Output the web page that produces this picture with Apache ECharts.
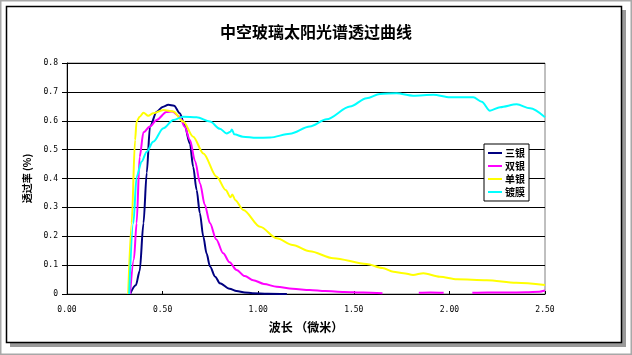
<!DOCTYPE html>
<html><head><meta charset="utf-8">
<script src="https://cdn.jsdelivr.net/npm/echarts@6/dist/echarts.min.js"></script>
<style>html,body{margin:0;padding:0;background:#fff}#c{width:632px;height:355px}</style>
</head><body><div id="c"></div>
<script>
var titleText = '中空玻璃太阳光谱透过曲线';
var xName = '波长 （微米）';
var yName = '透过率 (%)';
var seriesNames = ['三银', '双银', '单银', '镀膜'];
var seriesColors = ['#000080', '#FF00FF', '#FFFF00', '#00FFFF'];

var xSan = [0.33,0.36,0.38,0.40,0.417,0.434,0.469,0.50,0.53,0.56,0.59,0.615,0.643,0.66,0.678,0.695,0.713,0.73,0.748,0.775,0.80,0.85,0.887,0.93,0.97,1.05,1.15];
var ySan = [0,0.03,0.08,0.245,0.42,0.58,0.631,0.648,0.655,0.652,0.626,0.585,0.52,0.44,0.36,0.28,0.198,0.14,0.095,0.06,0.037,0.018,0.01,0.005,0.003,0.001,0];

var xShuang = [0.33,0.35,0.364,0.38,0.40,0.434,0.469,0.52,0.55,0.59,0.615,0.643,0.67,0.696,0.72,0.748,0.78,0.817,0.85,0.887,0.93,0.974,1.03,1.097,1.18,1.27,1.35,1.45,1.55,1.65,1.70,1.84,1.90,1.97,2.03,2.12,2.20,2.30,2.40,2.47,2.50];
var yShuang = [0,0.12,0.245,0.475,0.56,0.58,0.603,0.63,0.632,0.614,0.58,0.533,0.46,0.383,0.31,0.245,0.19,0.141,0.11,0.083,0.062,0.048,0.035,0.025,0.018,0.014,0.01,0.007,0.005,0.003,null,0.004,0.005,0.004,null,0.004,0.005,0.005,0.006,0.008,0.012];

var xDan = [0.32,0.338,0.356,0.364,0.38,0.40,0.425,0.451,0.504,0.556,0.608,0.66,0.713,0.783,0.83,0.855,0.865,0.88,0.922,1.01,1.097,1.18,1.27,1.393,1.567,1.65,1.707,1.76,1.81,1.864,1.95,2.04,2.195,2.35,2.5];
var yDan = [0,0.245,0.533,0.597,0.614,0.628,0.617,0.626,0.637,0.632,0.597,0.545,0.487,0.406,0.36,0.335,0.345,0.325,0.291,0.233,0.193,0.17,0.148,0.124,0.104,0.09,0.077,0.072,0.066,0.072,0.06,0.051,0.048,0.039,0.031];

var xDu = [0.325,0.347,0.364,0.39,0.417,0.451,0.504,0.556,0.608,0.678,0.748,0.80,0.835,0.855,0.862,0.875,0.92,0.99,1.062,1.166,1.27,1.358,1.48,1.567,1.637,1.724,1.81,1.916,2.003,2.125,2.169,2.212,2.265,2.352,2.422,2.5];
var yDu = [0,0.245,0.406,0.458,0.493,0.527,0.574,0.603,0.614,0.612,0.597,0.572,0.556,0.562,0.57,0.553,0.545,0.541,0.542,0.555,0.58,0.605,0.649,0.678,0.693,0.695,0.687,0.69,0.681,0.681,0.666,0.635,0.647,0.657,0.643,0.612];

function pairs(xs, ys) {
  return xs.map(function (x, i) { return [x, ys[i] === null ? '-' : ys[i]]; });
}
var allX = [xSan, xShuang, xDan, xDu];
var allY = [ySan, yShuang, yDan, yDu];

var chart = echarts.init(document.getElementById('c'), null, {renderer: 'canvas'});
var cjk = '"Noto Sans CJK SC", "DejaVu Sans", sans-serif';
chart.setOption({
  animation: false,
  backgroundColor: '#fff',
  graphic: [
    {type: 'rect', shape: {x: 0.5, y: 0.5, width: 631, height: 354}, style: {fill: 'none', stroke: '#a8a8a8', lineWidth: 2}, z: -10},
    {type: 'rect', shape: {x: 10, y: 10, width: 616, height: 337}, style: {fill: '#9a9a9a'}, z: -9},
    {type: 'rect', shape: {x: 6.5, y: 6.5, width: 615, height: 336}, style: {fill: '#fff', stroke: '#000', lineWidth: 1.5}, z: -8}
  ],
  title: {
    text: titleText, left: 'center', top: 19,
    textStyle: {fontFamily: cjk, fontSize: 16, fontWeight: 'bold', color: '#000'}
  },
  legend: {
    orient: 'vertical', left: 484, top: 144, width: 49,
    backgroundColor: '#fff', borderColor: '#000', borderWidth: 1,
    padding: [4, 4, 4, 4], itemGap: 3, itemWidth: 14, itemHeight: 2,
    icon: 'rect',
    textStyle: {fontFamily: cjk, fontSize: 10, fontWeight: 'bold', color: '#000', padding: [0, 0, 0, -2]},
    data: seriesNames
  },
  grid: {left: 67, right: 87, top: 63, bottom: 61, show: true, borderColor: '#808080', borderWidth: 1, backgroundColor: '#fff'},
  xAxis: {
    type: 'value', min: 0, max: 2.5, interval: 0.5,
    name: xName, nameLocation: 'middle', nameGap: 27,
    nameTextStyle: {fontFamily: cjk, fontSize: 12, fontWeight: 'bold', color: '#000'},
    axisLine: {lineStyle: {color: '#000', width: 1}},
    axisTick: {inside: true, length: 3, lineStyle: {color: '#000'}},
    splitLine: {show: false},
    axisLabel: {formatter: function (v) { return v.toFixed(2); }, fontFamily: '"DejaVu Sans Mono", monospace', fontSize: 8, color: '#000', margin: 12}
  },
  yAxis: {
    type: 'value', min: 0, max: 0.8, interval: 0.1,
    name: yName, nameLocation: 'middle', nameGap: 31, nameRotate: 90,
    nameTextStyle: {fontFamily: cjk, fontSize: 10, fontWeight: 'bold', color: '#000'},
    axisLine: {show: true, lineStyle: {color: '#000', width: 1}},
    axisTick: {show: true, length: 5, lineStyle: {color: '#000'}},
    splitLine: {show: true, lineStyle: {color: '#000', width: 1}},
    axisLabel: {formatter: function (v) { return v === 0 ? '0' : v.toFixed(1); }, fontFamily: '"DejaVu Sans Mono", monospace', fontSize: 8, color: '#000', margin: 9}
  },
  series: seriesNames.map(function (n, i) {
    return {
      name: n, type: 'line', data: pairs(allX[i], allY[i]),
      showSymbol: false, smooth: 0.3, smoothMonotone: 'x', connectNulls: false,
      lineStyle: {color: seriesColors[i], width: 2}, itemStyle: {color: seriesColors[i]},
      clip: true
    };
  })
});
</script></body></html>
